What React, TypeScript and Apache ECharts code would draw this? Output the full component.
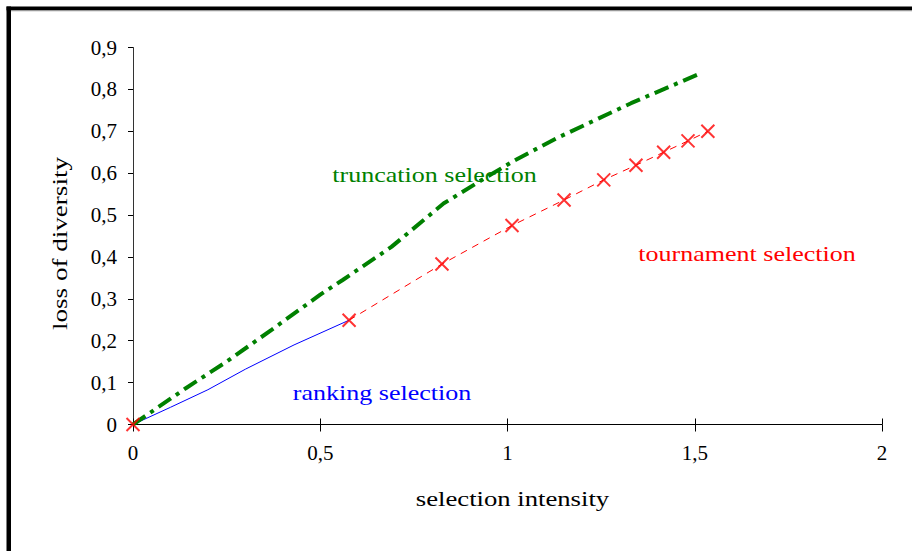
import React, { useEffect, useRef } from "react";
import * as echarts from "echarts";

// x: selection intensity, y: loss of diversity
const truncationX = [0, 0.14, 0.25, 0.37, 0.5, 0.56, 0.69, 0.83, 0.93, 1.02, 1.13, 1.33, 1.52];
const truncationY = [0, 0.086, 0.15, 0.226, 0.31, 0.345, 0.424, 0.528, 0.583, 0.631, 0.683, 0.767, 0.84];

const rankingX = [0, 0.1, 0.2, 0.3, 0.43, 0.577];
const rankingY = [0, 0.041, 0.083, 0.132, 0.19, 0.249];

const tournamentX = [0, 0.577, 0.825, 1.012, 1.151, 1.257, 1.343, 1.417, 1.482, 1.535];
const tournamentY = [0, 0.249, 0.383, 0.475, 0.536, 0.584, 0.619, 0.65, 0.677, 0.7];

const xMin = 0;
const xMax = 2;
const xStep = 0.5;
const yMin = 0;
const yMax = 0.9;
const yStep = 0.1;

const xTitle = "selection intensity";
const yTitle = "loss of diversity";
const labelTruncation = "truncation selection";
const labelTournament = "tournament selection";
const labelRanking = "ranking selection";

const FONT = "'Liberation Serif', 'Times New Roman', serif";

const fmt = (v: number) => String(+Number(v).toFixed(2)).replace(".", ",");

const zip = (xs: number[], ys: number[]) => xs.map((x, i) => [x, ys[i]]);

export default function App() {
  const ref = useRef<HTMLDivElement>(null);

  useEffect(() => {
    if (!ref.current) return;
    const chart = echarts.init(ref.current, undefined, { renderer: "svg" });
    const stretch = 1.24;
    chart.setOption({
      animation: false,
      backgroundColor: "#ffffff",
      grid: { left: 133, right: 30, top: 47.5, bottom: 126.5 },
      xAxis: [
        {
          type: "value",
          min: xMin,
          max: xMax,
          interval: xStep,
          position: "bottom",
          axisLine: { show: true, lineStyle: { color: "#000", width: 1 } },
          axisTick: { show: true, inside: false, length: 7, lineStyle: { color: "#000" } },
          axisLabel: {
            show: true,
            margin: 18,
            color: "#000",
            fontFamily: FONT,
            fontSize: 21,
            formatter: (v: number) => fmt(v),
          },
          splitLine: { show: false },
        },
        {
          type: "value",
          min: xMin,
          max: xMax,
          interval: xStep,
          position: "bottom",
          axisLine: { show: false },
          axisTick: { show: true, inside: true, length: 6, lineStyle: { color: "#000" } },
          axisLabel: { show: false },
          splitLine: { show: false },
        },
      ],
      yAxis: {
        type: "value",
        min: yMin,
        max: yMax,
        interval: yStep,
        axisLine: { show: true, lineStyle: { color: "#333", width: 1 } },
        axisTick: { show: true, inside: false, length: 5, lineStyle: { color: "#000" } },
        axisLabel: {
          margin: 16,
          color: "#000",
          fontFamily: FONT,
          fontSize: 21,
          formatter: (v: number) => fmt(v),
        },
        splitLine: { show: false },
      },
      series: [
        {
          name: "ranking selection",
          type: "line",
          data: zip(rankingX, rankingY),
          symbol: "none",
          lineStyle: { color: "#0000ff", width: 1 },
          z: 2,
        },
        {
          name: "tournament selection",
          type: "line",
          data: zip(tournamentX.slice(1), tournamentY.slice(1)),
          symbol: "none",
          lineStyle: { color: "#ff0000", width: 1, type: [7, 6] },
          z: 2,
        },
        {
          name: "truncation selection",
          type: "line",
          data: zip(truncationX, truncationY),
          symbol: "none",
          lineStyle: { color: "#008000", width: 4, type: [15, 6, 4, 6] },
          z: 3,
        },
        {
          name: "tournament markers",
          type: "scatter",
          data: zip(tournamentX, tournamentY),
          symbol: "path://M0,0L10,10M10,0L0,10",
          symbolSize: 13,
          itemStyle: { color: "#ff0000", borderColor: "#ff0000", borderWidth: 2 },
          z: 5,
        },
      ],
      graphic: [
        { type: "rect", shape: { x: 6.5, y: 6.5, width: 906, height: 3.5 }, style: { fill: "#000" }, silent: true },
        { type: "rect", shape: { x: 6.5, y: 10, width: 906, height: 1.3 }, style: { fill: "#999" }, silent: true },
        { type: "rect", shape: { x: 6.5, y: 6.5, width: 4.5, height: 545 }, style: { fill: "#000" }, silent: true },
        {
          type: "text",
          x: 434.5,
          y: 175,
          scaleX: stretch,
          style: { text: labelTruncation, fill: "#008000", font: `21px ${FONT}`, textAlign: "center", textVerticalAlign: "middle" },
        },
        {
          type: "text",
          x: 747,
          y: 254,
          scaleX: stretch,
          style: { text: labelTournament, fill: "#ff0000", font: `21px ${FONT}`, textAlign: "center", textVerticalAlign: "middle" },
        },
        {
          type: "text",
          x: 382,
          y: 393,
          scaleX: stretch,
          style: { text: labelRanking, fill: "#0000ff", font: `21px ${FONT}`, textAlign: "center", textVerticalAlign: "middle" },
        },
        {
          type: "text",
          x: 512.5,
          y: 499,
          scaleX: 1.27,
          style: { text: xTitle, fill: "#000", font: `21px ${FONT}`, textAlign: "center", textVerticalAlign: "middle" },
        },
        {
          type: "text",
          x: 60,
          y: 243.5,
          rotation: Math.PI / 2,
          scaleX: 1.29,
          style: { text: yTitle, fill: "#000", font: `21px ${FONT}`, textAlign: "center", textVerticalAlign: "middle" },
        },
      ],
    });
    return () => chart.dispose();
  }, []);

  return (
    <div
      ref={ref}
      style={{ position: "absolute", left: 0, top: 0, width: 912, height: 551, background: "#fff" }}
    />
  );
}
